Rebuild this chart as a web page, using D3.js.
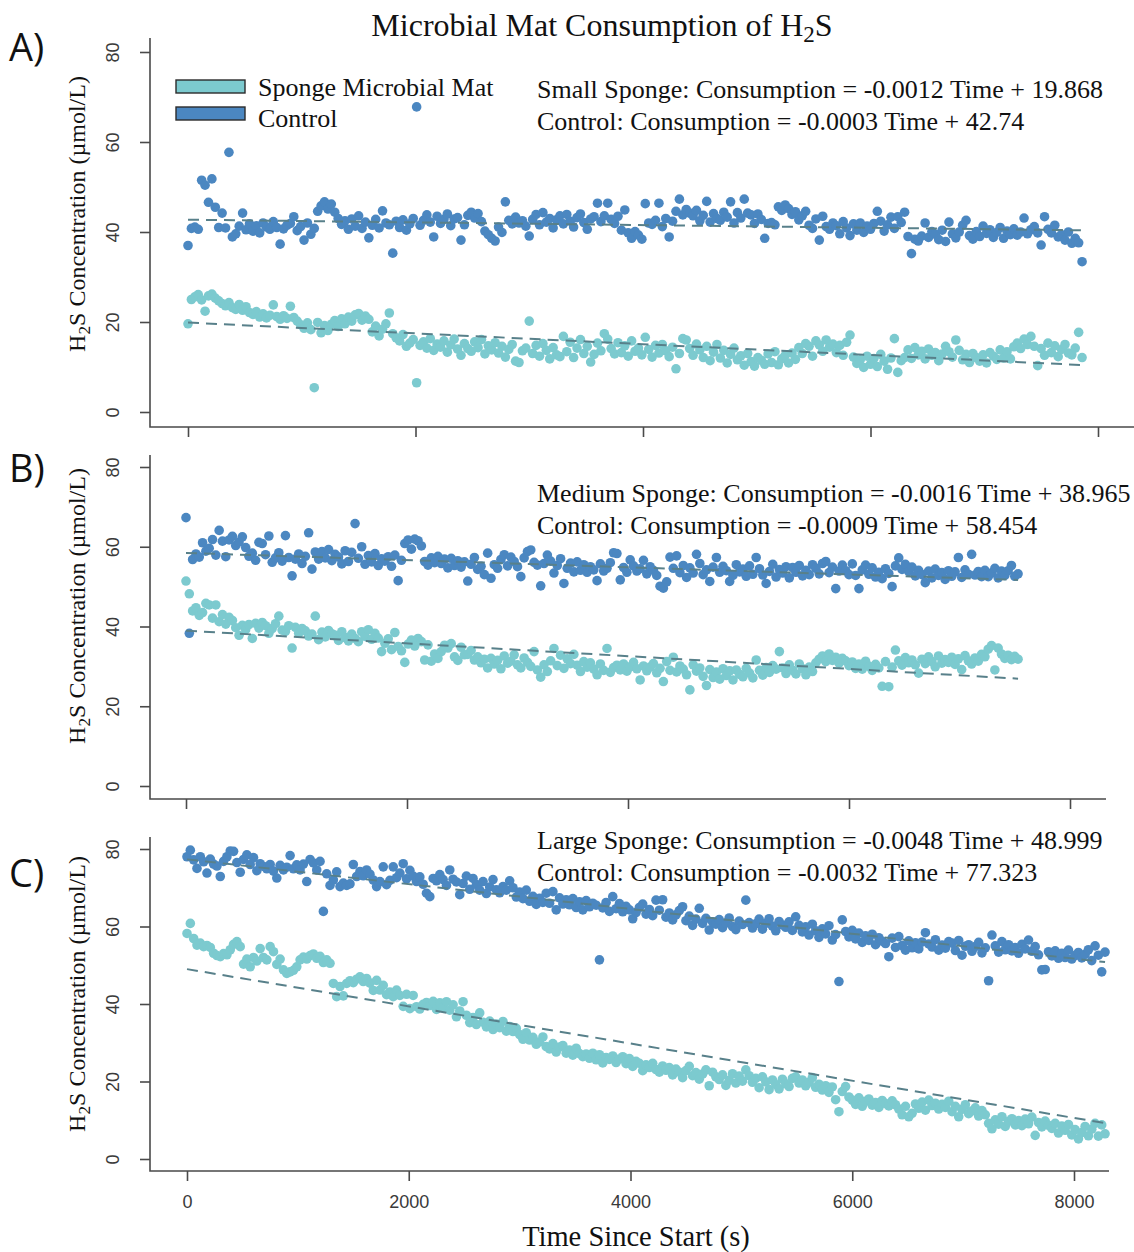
<!DOCTYPE html>
<html>
<head>
<meta charset="utf-8">
<script src="https://cdn.jsdelivr.net/npm/d3@7"></script>
<style>
  body { margin: 0; background: #ffffff; }
  svg { display: block; }
</style>
</head>
<body>
<svg id="chart" width="1134" height="1252"></svg>
<script>
// Readings were logged every 30 s from the start of each incubation.
const sampleStep = 30;

// H2S concentration (µmol/L), small sponge incubation
const smallSponge = [
  19.6, 25.0, 25.6, 26.1, 24.9, 22.4, 25.8, 26.2, 25.3, 24.7,
  24.1, 23.6, 24.3, 23.2, 22.8, 23.9, 22.6, 23.4, 22.1, 21.7,
  22.3, 21.1, 21.8, 20.9, 21.5, 23.8, 21.2, 20.6, 21.4, 20.8,
  23.5, 21.0, 20.2, 19.4, 18.6, 19.8, 18.3, 5.4, 19.9, 17.6,
  19.2, 18.1, 19.5, 20.3, 19.0, 20.7, 19.6, 21.1, 20.2, 21.6,
  21.9, 20.4, 21.3, 20.6, 17.8, 19.1, 16.9, 18.4, 19.6, 22.0,
  17.4, 16.5, 15.8, 17.2, 14.6, 15.3, 16.1, 6.5, 14.8, 15.6,
  14.2, 16.3, 13.7, 15.1, 14.4, 15.8, 13.3, 14.9, 16.2, 14.0,
  12.6, 15.2, 14.1, 13.5, 15.6, 14.3, 16.1, 12.9, 14.7, 13.8,
  15.4, 13.1, 14.6, 12.2, 13.9, 15.0, 11.3, 11.0, 13.6, 14.2,
  20.2, 13.0, 14.8, 12.4, 15.2, 13.7, 11.8, 14.3, 12.7, 12.3,
  16.8, 13.4, 15.5, 12.1, 14.2, 16.1, 13.0, 14.6, 11.1, 12.8,
  15.3, 13.6, 17.4, 16.2, 14.1, 12.9, 15.4, 13.2, 14.7, 12.4,
  15.8, 13.5, 14.2, 12.7, 16.6, 13.9, 12.2, 14.8, 13.1, 15.0,
  13.6, 12.3, 14.4, 9.6, 13.0, 16.3, 16.0, 14.1, 12.6, 15.1,
  13.8, 12.1, 14.6, 11.4, 13.3, 15.0, 12.0, 13.7, 10.9, 12.8,
  14.2, 11.6, 12.5, 10.4, 13.0, 11.2, 10.2, 12.1, 11.5, 10.6,
  12.9, 11.0, 13.4, 10.5, 11.8, 12.6, 10.9, 13.1, 11.7, 14.3,
  13.0, 15.2, 14.6, 12.4, 15.8, 14.9, 13.5, 16.0, 14.4, 15.1,
  13.2, 14.8, 12.6, 15.5, 17.1, 12.2, 10.8, 11.6, 9.9, 12.4,
  10.6, 11.9, 10.1, 12.8, 11.3, 9.5, 12.0, 16.3, 8.8, 11.4,
  12.1, 13.8, 11.9, 14.3, 12.7, 13.5, 11.8, 14.0, 12.6, 13.2,
  11.4, 12.9, 14.6, 13.4, 12.2, 16.0, 13.7, 11.6, 12.8, 11.0,
  13.0, 12.1, 11.3, 12.7, 10.9, 13.2, 12.4, 11.7, 13.8, 12.0,
  13.4, 11.8, 14.5, 15.3, 14.1, 16.2, 15.0, 16.8, 14.6, 10.3,
  14.1, 12.6, 15.3, 13.2, 14.7, 12.3, 13.9, 15.0, 13.1, 12.7,
  14.2, 17.7, 12.1
];

// H2S concentration (µmol/L), control run alongside the small sponge
const smallControl = [
  37.0, 40.8, 41.1, 40.6, 51.5, 50.4, 46.6, 51.8, 45.5, 41.0,
  44.2, 40.9, 57.7, 38.9, 39.6, 41.3, 44.2, 40.5, 41.8, 40.2,
  41.4, 39.8, 42.0, 41.1, 40.6, 42.3, 41.0, 37.3, 40.7, 41.5,
  41.9, 43.4, 40.3, 41.2, 38.2, 42.0, 39.5, 40.8, 44.6, 45.8,
  46.7, 45.1, 46.2, 44.4, 43.0, 41.7, 42.5, 40.6, 42.9, 41.3,
  43.6, 40.8, 42.2, 38.7, 41.5, 42.8, 40.9, 44.7, 42.0, 41.6,
  35.3, 42.4, 41.0, 42.7, 40.4, 41.8, 43.0, 67.8, 41.5, 42.6,
  43.8, 42.2, 38.9, 43.5, 41.9, 42.8, 44.0, 41.4, 42.9, 43.2,
  38.2, 41.6, 43.7, 44.4, 43.1, 44.1, 42.3, 40.2, 39.4, 38.6,
  38.0, 41.1, 39.9, 46.7, 42.6, 41.8, 43.3, 42.0, 42.5, 41.3,
  39.1, 42.8, 43.9, 41.6, 44.3, 42.2, 43.0, 40.9, 42.7, 43.6,
  41.8, 43.9, 42.4, 41.1, 43.2, 44.0, 42.1, 40.6, 42.9, 43.4,
  46.4, 42.3, 43.6, 46.4, 42.8, 41.9, 43.5, 40.4, 44.9, 39.8,
  38.6, 40.1, 39.3, 38.4, 46.3, 42.0, 41.7, 42.6, 46.4, 41.2,
  43.0, 38.9, 42.4, 44.6, 47.3, 43.8, 45.0, 44.2, 43.6, 44.8,
  42.5, 43.7, 46.8, 42.2, 44.1, 43.0, 42.6, 44.4, 43.3, 46.7,
  42.0, 44.3, 43.1, 47.3, 44.2, 43.8, 41.9, 44.0, 42.8, 38.6,
  41.9, 42.1, 41.6, 45.6, 44.8, 46.0, 45.2, 43.9, 44.5, 42.7,
  43.6, 44.6, 41.5, 40.8, 42.9, 38.2, 43.5, 41.2, 40.6, 42.0,
  41.4, 39.6, 42.3, 40.9, 39.2, 41.8, 40.4, 42.0, 39.9, 41.3,
  40.6, 41.9, 44.6, 42.4, 40.2, 41.6, 43.3, 40.8, 43.4, 42.1,
  44.4, 39.0, 35.2, 38.4, 38.0, 39.1, 42.0, 38.8, 40.1, 39.5,
  38.3, 40.4, 37.9, 42.2, 39.6, 38.7, 40.0, 41.5, 42.6, 39.2,
  38.4, 40.1, 39.0, 41.3, 39.7, 40.5, 38.8, 39.9, 41.0, 38.6,
  40.2, 39.4, 40.7, 39.3, 40.0, 43.1, 39.6, 40.5, 41.2, 39.8,
  37.1, 43.4, 40.6, 39.8, 41.5, 38.9, 39.4, 38.2, 40.0, 37.5,
  38.6, 37.6, 33.4
];

// H2S concentration (µmol/L), medium sponge incubation
const mediumSponge = [
  51.4, 48.2, 43.9, 44.7, 42.8, 43.5, 45.8, 45.4, 42.1, 45.4,
  41.2, 43.0, 40.6, 42.3, 41.5, 39.7, 37.8, 40.3, 39.2, 40.5,
  37.0, 40.8, 39.6, 41.0, 40.2, 38.3, 39.5, 40.7, 42.6, 39.1,
  38.8, 40.2, 34.6, 39.8, 38.3, 39.5, 38.9, 37.6, 38.1, 42.6,
  36.7, 38.6, 37.4, 39.0, 38.2, 37.8, 36.5, 38.7, 37.2, 36.4,
  38.1, 37.0, 36.2, 38.7, 37.5, 39.2, 36.8, 38.3, 37.1, 33.7,
  35.8, 36.9, 34.2, 38.5, 35.0, 33.9, 31.0, 35.6, 36.6, 35.1,
  37.0, 36.2, 31.6, 35.4, 31.3, 33.1, 32.0, 33.7, 35.3, 34.6,
  35.7, 32.4, 31.5, 34.8, 32.9, 33.0, 34.0, 31.6, 32.4, 30.9,
  31.8, 29.6, 32.0, 30.6, 31.5, 29.4, 32.6, 30.8, 31.3, 32.9,
  30.4, 29.6, 32.1, 31.0, 30.0, 33.7, 29.1, 27.3, 30.4, 28.7,
  31.4, 34.5, 30.2, 32.8, 29.5, 31.9, 30.7, 33.0, 30.3, 28.7,
  31.2, 29.8, 30.9, 29.3, 27.9, 30.6, 29.0, 34.5, 28.5, 29.7,
  30.3, 29.1, 30.6, 28.8, 29.9, 31.0, 29.4, 26.6, 30.1, 28.9,
  29.8, 30.7, 28.4, 29.5, 26.2, 31.2, 29.0, 32.3, 28.6, 30.1,
  29.3, 27.9, 24.1, 30.4, 28.8, 29.6, 27.5, 25.2, 29.2, 27.2,
  28.6, 26.8, 29.4, 27.7, 28.9, 26.6, 29.1, 28.0, 27.4, 29.5,
  28.3, 27.1, 31.6, 29.0, 27.8, 29.7, 28.5, 30.2, 29.3, 33.7,
  29.6, 28.2, 30.4, 29.0, 28.1, 30.6, 29.4, 27.9, 29.8, 28.7,
  30.9, 31.8, 32.6, 31.2, 33.1, 31.5, 32.3, 30.8, 32.0, 31.4,
  30.2, 31.1, 29.5, 30.6, 29.3, 31.3, 30.0, 29.0, 30.5, 29.6,
  25.0, 31.2, 24.9, 29.8, 34.1, 31.4, 30.3, 32.2, 30.9, 31.6,
  30.4, 28.3, 31.8, 30.7, 32.4, 31.2, 29.9, 32.6, 30.8, 31.7,
  31.0, 32.3, 30.5, 31.9, 29.2, 32.7, 31.4, 30.6, 32.1, 31.3,
  33.0, 32.4, 34.3, 35.2, 29.1, 34.6, 33.1, 32.0, 32.8, 31.7,
  32.5, 31.8
];

// H2S concentration (µmol/L), control run alongside the medium sponge
const mediumControl = [
  67.3, 38.3, 56.8, 58.2, 57.4, 61.0, 58.9, 59.6, 61.8, 57.9,
  64.1, 61.4, 57.5, 61.7, 62.6, 60.3, 61.2, 62.5, 59.8, 57.6,
  58.4, 56.6, 61.1, 60.8, 58.0, 62.7, 56.1, 57.2, 58.5, 56.4,
  62.8, 57.3, 52.7, 56.9, 58.2, 55.8, 57.6, 63.5, 54.4, 58.7,
  56.9, 58.8, 57.2, 59.3, 56.5, 58.1, 57.4, 55.7, 59.0, 56.3,
  58.6, 65.8, 57.1, 60.0, 55.6, 57.8, 56.2, 58.3, 55.3, 57.0,
  56.4, 57.5, 55.1, 57.9, 51.5, 56.6, 60.8, 61.7, 59.4, 61.9,
  61.5, 60.2, 56.3, 55.4, 57.2, 56.0, 57.6, 55.8, 56.9, 54.7,
  57.1, 55.3, 56.5, 54.9, 56.2, 51.4, 55.6, 57.3, 54.3, 55.1,
  53.0, 58.4, 52.1, 55.5, 54.6, 56.8, 58.0, 55.2, 57.4, 56.3,
  55.0, 52.5, 57.2, 58.8, 59.2, 56.1, 55.4, 50.2, 55.8, 57.9,
  56.4, 53.4, 55.3, 57.0, 50.8, 54.6, 55.9, 53.7, 56.2, 54.1,
  55.5, 53.6, 55.0, 54.2, 51.5, 55.7, 53.9, 54.6, 56.0, 58.5,
  58.3, 51.7, 54.8, 53.6, 56.7, 55.2, 53.9, 54.5, 56.6, 53.2,
  55.0, 54.1, 52.8, 50.1, 49.6, 51.2, 57.4, 54.6, 57.7, 53.5,
  55.3, 52.3, 54.7, 53.4, 58.1, 55.8, 53.0, 54.2, 51.3, 54.9,
  57.3, 53.6, 55.1, 54.0, 51.3, 52.8, 55.5, 53.7, 54.4, 52.6,
  55.2, 53.1, 57.3, 54.5, 52.9, 50.8, 53.8, 55.6, 52.4, 54.3,
  53.4, 55.0, 52.2, 54.8, 53.6, 55.3, 52.7, 54.1, 53.0, 55.5,
  54.6, 53.2, 55.8, 56.3, 53.5, 54.9, 49.5, 53.9, 55.4, 54.0,
  53.0, 55.7, 52.8, 49.5, 54.2, 55.4, 53.1, 54.7, 52.4, 53.6,
  52.0, 54.5, 53.3, 50.0, 55.2, 57.2, 54.3, 55.6, 53.8, 54.9,
  52.7, 54.1, 53.0, 51.0, 53.9, 52.2, 54.4, 52.8, 53.5, 51.8,
  54.0, 52.6, 53.7, 57.3, 52.3, 54.2, 53.1, 58.1, 52.9, 53.8,
  52.5, 54.1, 52.5, 53.4, 54.6, 52.2, 53.9, 52.8, 54.0, 55.3,
  52.6, 53.2
];

// H2S concentration (µmol/L), large sponge incubation
const largeSponge = [
  58.2, 60.8, 56.9, 55.2, 55.7, 54.8, 55.1, 54.6, 53.1, 52.5,
  52.2, 53.0, 52.7, 54.0, 55.4, 56.1, 54.8, 50.3, 51.6, 49.6,
  52.0, 51.1, 54.3, 52.0, 51.4, 54.8, 53.5, 50.2, 51.6, 48.8,
  47.9, 48.3, 48.7, 49.6, 51.4, 52.1, 51.6, 52.5, 52.9, 51.8,
  52.3, 50.7, 51.4, 50.5, 45.3, 41.9, 44.5, 42.1, 45.3, 46.0,
  45.5, 46.4, 47.0, 45.8, 46.6, 45.4, 43.5, 46.1, 43.6, 44.8,
  42.4, 43.1, 41.9, 43.6, 42.2, 39.4, 42.5, 38.8, 42.2, 39.3,
  38.7, 39.9, 40.4, 39.6, 40.7, 38.6, 40.3, 39.1, 40.6, 38.4,
  39.8, 36.7, 38.2, 40.6, 37.1, 35.2, 36.5, 34.7, 37.7, 35.3,
  34.1, 35.6, 33.4, 34.8, 33.9, 35.5, 33.0, 34.2, 32.9, 33.7,
  32.1, 30.9, 32.6, 30.7, 31.4, 29.6, 30.2, 31.5, 29.0, 28.4,
  29.8, 27.6, 28.9, 29.3, 27.3, 28.1, 26.8, 28.6, 27.2, 26.4,
  27.1, 26.0, 27.3, 25.6, 26.9, 24.8, 26.2, 25.7, 26.6, 24.9,
  25.8, 26.4, 24.6, 25.9, 23.9, 25.2, 24.7, 22.8, 24.3, 23.6,
  24.7, 23.1, 22.4, 24.0, 22.9, 23.6, 21.7, 23.2, 22.4, 21.0,
  22.8, 23.9, 21.5, 22.3, 20.6, 21.9, 23.0, 18.9, 22.4, 21.2,
  20.5, 21.7, 19.0, 20.3, 22.0, 19.6, 21.4, 20.1, 23.0, 21.5,
  19.8, 20.8, 18.4, 21.2, 19.9, 17.9, 20.4, 19.2, 18.1, 20.6,
  19.4, 18.7, 20.8, 21.2, 19.6, 20.4, 18.9, 19.8, 21.0, 18.5,
  19.3, 17.8, 18.9, 17.2, 18.6, 15.3, 12.2, 17.4, 18.7, 16.0,
  15.2, 14.1, 15.8, 13.6, 14.9, 15.5, 13.9, 14.6, 13.3, 15.1,
  14.3, 13.7, 15.0, 14.0, 12.9, 11.4, 13.6, 10.9, 11.8, 14.2,
  13.1, 14.7, 12.6, 15.2, 13.8, 14.4, 12.9, 14.1, 13.3, 14.9,
  12.2, 13.6, 10.9, 12.8, 14.0, 11.7, 12.4, 13.2, 11.1, 12.5,
  11.4, 9.2, 7.8, 10.1, 9.0, 10.9, 8.4, 9.7, 10.4, 8.8,
  9.9, 8.6, 10.3, 9.1, 10.8, 6.1, 9.4, 8.3, 9.8, 8.7,
  7.9, 9.2, 6.7, 8.5, 7.4, 8.9, 6.2, 7.6, 5.2, 6.8,
  8.4, 6.0, 7.7, 9.2, 5.9, 8.8, 6.5
];

// H2S concentration (µmol/L), control run alongside the large sponge
const largeControl = [
  78.0, 79.7, 77.2, 75.0, 78.0, 76.7, 73.8, 77.4, 76.1, 75.6,
  72.9, 76.8, 78.0, 79.5, 79.4, 76.5, 74.0, 77.3, 78.5, 76.0,
  77.8, 74.4, 76.2, 75.5, 74.9, 76.0, 74.3, 72.5, 75.8, 74.6,
  75.3, 78.3, 74.9, 75.9, 74.6, 76.1, 71.6, 77.3, 76.4, 74.6,
  76.8, 63.9, 73.6, 70.6, 72.0, 74.1, 70.3, 71.2, 70.6, 71.0,
  76.0, 72.9, 74.2, 73.1, 74.6, 73.5, 72.0, 70.3, 71.6, 75.4,
  70.8, 71.9, 75.4, 72.6, 73.8, 76.2, 72.3, 74.5, 73.0, 71.6,
  72.8, 70.9, 68.6, 67.7, 72.4, 71.8, 73.4, 72.1, 70.6, 74.6,
  72.2, 71.5, 68.2, 71.1, 73.0, 69.6, 72.4, 70.8, 69.4, 71.6,
  68.5, 70.2, 72.1, 69.5, 68.7, 70.3, 69.4, 71.8, 70.0, 67.6,
  68.9, 67.2, 69.4, 66.5, 67.8, 65.7, 67.3, 66.2, 68.6, 66.0,
  69.0, 64.3, 67.4, 65.8, 66.9, 65.6, 67.2, 64.9, 66.4, 64.3,
  66.7, 65.1, 66.0, 65.5, 51.4, 64.8, 66.2, 63.9, 67.7, 64.6,
  65.9, 63.8, 65.2, 64.3, 62.0, 63.6, 64.9, 65.8, 63.2, 64.4,
  62.8, 66.8, 64.2, 66.9, 62.4, 63.5, 61.7, 63.0, 64.1, 65.1,
  61.5, 62.7, 60.3, 61.9, 64.7, 60.8, 62.1, 59.1, 61.2, 60.6,
  61.8, 59.7, 60.9, 62.2, 60.0, 59.2, 61.4, 60.5, 66.8, 61.0,
  59.6, 60.7, 61.9, 59.3, 60.8, 62.0, 60.1, 58.9, 61.3, 60.4,
  59.8, 61.2, 59.0, 62.5, 60.3, 58.6, 59.9, 57.8, 60.6, 58.9,
  57.2, 59.4, 58.1, 60.2, 56.5, 57.9, 45.8, 61.7, 58.7, 57.3,
  59.0, 56.8, 58.3, 55.9, 57.6, 56.4, 58.0, 55.3, 57.1, 56.2,
  55.6, 52.2, 57.0, 54.6, 57.4, 55.1, 53.9, 56.3, 54.5, 55.8,
  54.2, 56.0, 58.4, 55.5, 54.7, 56.6, 53.9, 55.2, 54.4, 56.1,
  55.7, 53.8, 56.4, 52.6, 54.9, 55.3, 53.6, 54.8, 55.9, 53.2,
  54.5, 46.0, 57.8, 55.0, 53.4, 56.1, 54.0, 55.3, 53.7, 54.6,
  53.1, 55.4, 54.2, 56.5, 53.6, 54.8, 52.7, 48.8, 48.9, 53.5,
  52.4, 53.7, 51.8, 53.1, 52.0, 53.9, 51.6, 52.5, 53.3, 51.9,
  52.8, 54.0, 51.2, 55.0, 52.6, 48.3, 53.4
];

// Fitted regressions (Consumption = slope * Time + intercept)
const spongeNames = ["Small Sponge", "Medium Sponge", "Large Sponge"];
const spongeSlopes = [-0.0012, -0.0016, -0.0048];
const spongeIntercepts = [19.868, 38.965, 48.999];
const controlSlopes = [-0.0003, -0.0009, -0.0032];
const controlIntercepts = [42.74, 58.454, 77.323];

const panelLetters = ["A)", "B)", "C)"];
const xTickValues = [0, 2000, 4000, 6000, 8000];
const yTickValues = [0, 20, 40, 60, 80];
const legendLabels = ["Sponge Microbial Mat", "Control"];

// ---------------------------------------------------------------
const spongeColor = "#7ccacf";
const controlColor = "#4b87c1";
const fitColor = "#58808a";
const axisColor = "#4a4a4a";
const serif = "'Liberation Serif', 'Times New Roman', serif";
const sans = "'Liberation Sans', Arial, Helvetica, sans-serif";
const dotRadius = 4.8;

// pixel frame of each panel
const panels = [
  { sponge: smallSponge,  control: smallControl,  x0: 188, x8: 1098, y0: 412,  y80: 52,  left: 150, top: 38,  bottom: 427,  right: 1134, letterY: 61,  titleY: 214, eqY: 98,  tickLabels: false },
  { sponge: mediumSponge, control: mediumControl, x0: 186, x8: 1070, y0: 786,  y80: 467, left: 150, top: 455, bottom: 799,  right: 1106, letterY: 482, titleY: 606, eqY: 502, tickLabels: false },
  { sponge: largeSponge,  control: largeControl,  x0: 187, x8: 1074, y0: 1159, y80: 849, left: 150, top: 837, bottom: 1171, right: 1109, letterY: 887, titleY: 994, eqY: 849, tickLabels: true }
];

const svg = d3.select("#chart");
svg.append("rect").attr("width", 1134).attr("height", 1252).attr("fill", "#fff");

// writes "H2S" with a subscript 2 into a text element
function h2s(sel, rest) {
  sel.append("tspan").text("H");
  sel.append("tspan").attr("font-size", "72%").attr("dy", "0.28em").text("2");
  sel.append("tspan").attr("dy", "-0.2em").text("S" + rest);
}

panels.forEach((p, k) => {
  const g = svg.append("g");
  const x = d3.scaleLinear().domain([0, 8000]).range([p.x0, p.x8]);
  const y = d3.scaleLinear().domain([0, 80]).range([p.y0, p.y80]);

  const toPoints = arr => arr.map((v, i) => ({ t: i * sampleStep, v }));
  const spongePts = toPoints(p.sponge);
  const controlPts = toPoints(p.control);

  // frame (left and bottom sides)
  g.append("path")
    .attr("d", `M${p.left},${p.top}V${p.bottom}H${p.right}`)
    .attr("fill", "none").attr("stroke", axisColor).attr("stroke-width", 1.6);

  // x axis ticks
  const xa = g.append("g").attr("transform", `translate(0,${p.bottom})`)
    .call(d3.axisBottom(x).tickValues(xTickValues).tickSize(10).tickFormat(d3.format("d")));
  xa.select(".domain").remove();
  xa.selectAll(".tick line").attr("stroke", axisColor).attr("stroke-width", 1.6);
  if (p.tickLabels) {
    xa.selectAll(".tick text").attr("y", 37).attr("dy", null)
      .attr("font-family", sans).attr("font-size", 18).attr("fill", "#3a3a3a");
  } else {
    xa.selectAll(".tick text").remove();
  }

  // y axis ticks with labels turned parallel to the axis
  const ya = g.append("g").attr("transform", `translate(${p.left},0)`)
    .call(d3.axisLeft(y).tickValues(yTickValues).tickSize(10));
  ya.select(".domain").remove();
  ya.selectAll(".tick line").attr("stroke", axisColor).attr("stroke-width", 1.6);
  ya.selectAll(".tick text")
    .attr("x", null).attr("dy", null)
    .attr("text-anchor", "middle")
    .attr("transform", "translate(-31,0) rotate(-90)")
    .attr("font-family", sans).attr("font-size", 18).attr("fill", "#3a3a3a");

  // points
  g.append("g").selectAll("circle").data(controlPts).join("circle")
    .attr("cx", d => x(d.t)).attr("cy", d => y(d.v)).attr("r", dotRadius)
    .attr("fill", controlColor);
  g.append("g").selectAll("circle").data(spongePts).join("circle")
    .attr("cx", d => x(d.t)).attr("cy", d => y(d.v)).attr("r", dotRadius)
    .attr("fill", spongeColor);

  // regression lines across the sampled time span
  const line = d3.line().x(d => x(d[0])).y(d => y(d[1]));
  [[spongeSlopes[k], spongeIntercepts[k], (p.sponge.length - 1) * sampleStep],
   [controlSlopes[k], controlIntercepts[k], (p.control.length - 1) * sampleStep]]
    .forEach(([m, b, te]) => {
      g.append("path")
        .attr("d", line([[0, b], [te, b + m * te]]))
        .attr("fill", "none").attr("stroke", fitColor)
        .attr("stroke-width", 2).attr("stroke-dasharray", "11,7");
    });

  // panel letter
  g.append("text").attr("x", 9).attr("y", p.letterY)
    .attr("font-family", "'Open Sans', 'Noto Sans', sans-serif")
    .attr("font-size", 38).attr("fill", "#111").text(panelLetters[k]);

  // y axis title
  const yt = g.append("text")
    .attr("transform", `translate(85,${p.titleY}) rotate(-90)`)
    .attr("text-anchor", "middle")
    .attr("font-family", serif).attr("font-size", 24).attr("fill", "#111");
  h2s(yt, " Concentration (µmol/L)");

  // regression equations
  const eq = g.append("text").attr("font-family", serif).attr("font-size", 26).attr("fill", "#111");
  eq.append("tspan").attr("x", 537).attr("y", p.eqY)
    .text(`${spongeNames[k]}: Consumption = ${spongeSlopes[k]} Time + ${spongeIntercepts[k]}`);
  eq.append("tspan").attr("x", 537).attr("y", p.eqY + 32)
    .text(`Control: Consumption = ${controlSlopes[k]} Time + ${controlIntercepts[k]}`);
});

// legend
const legend = svg.append("g");
[spongeColor, controlColor].forEach((c, i) => {
  legend.append("rect").attr("x", 176).attr("y", 80 + i * 27).attr("width", 69).attr("height", 13)
    .attr("fill", c).attr("stroke", "#2b2b2b").attr("stroke-width", 1.4);
  legend.append("text").attr("x", 258).attr("y", 96 + i * 31)
    .attr("font-family", serif).attr("font-size", 26).attr("fill", "#111")
    .text(legendLabels[i]);
});

// main title
const title = svg.append("text").attr("x", 602).attr("y", 36).attr("text-anchor", "middle")
  .attr("font-family", serif).attr("font-size", 32).attr("fill", "#111");
title.append("tspan").text("Microbial Mat Consumption of ");
h2s(title, "");

// x axis title
svg.append("text").attr("x", 636).attr("y", 1246).attr("text-anchor", "middle")
  .attr("font-family", serif).attr("font-size", 28.5).attr("fill", "#111")
  .text("Time Since Start (s)");
</script>
</body>
</html>
